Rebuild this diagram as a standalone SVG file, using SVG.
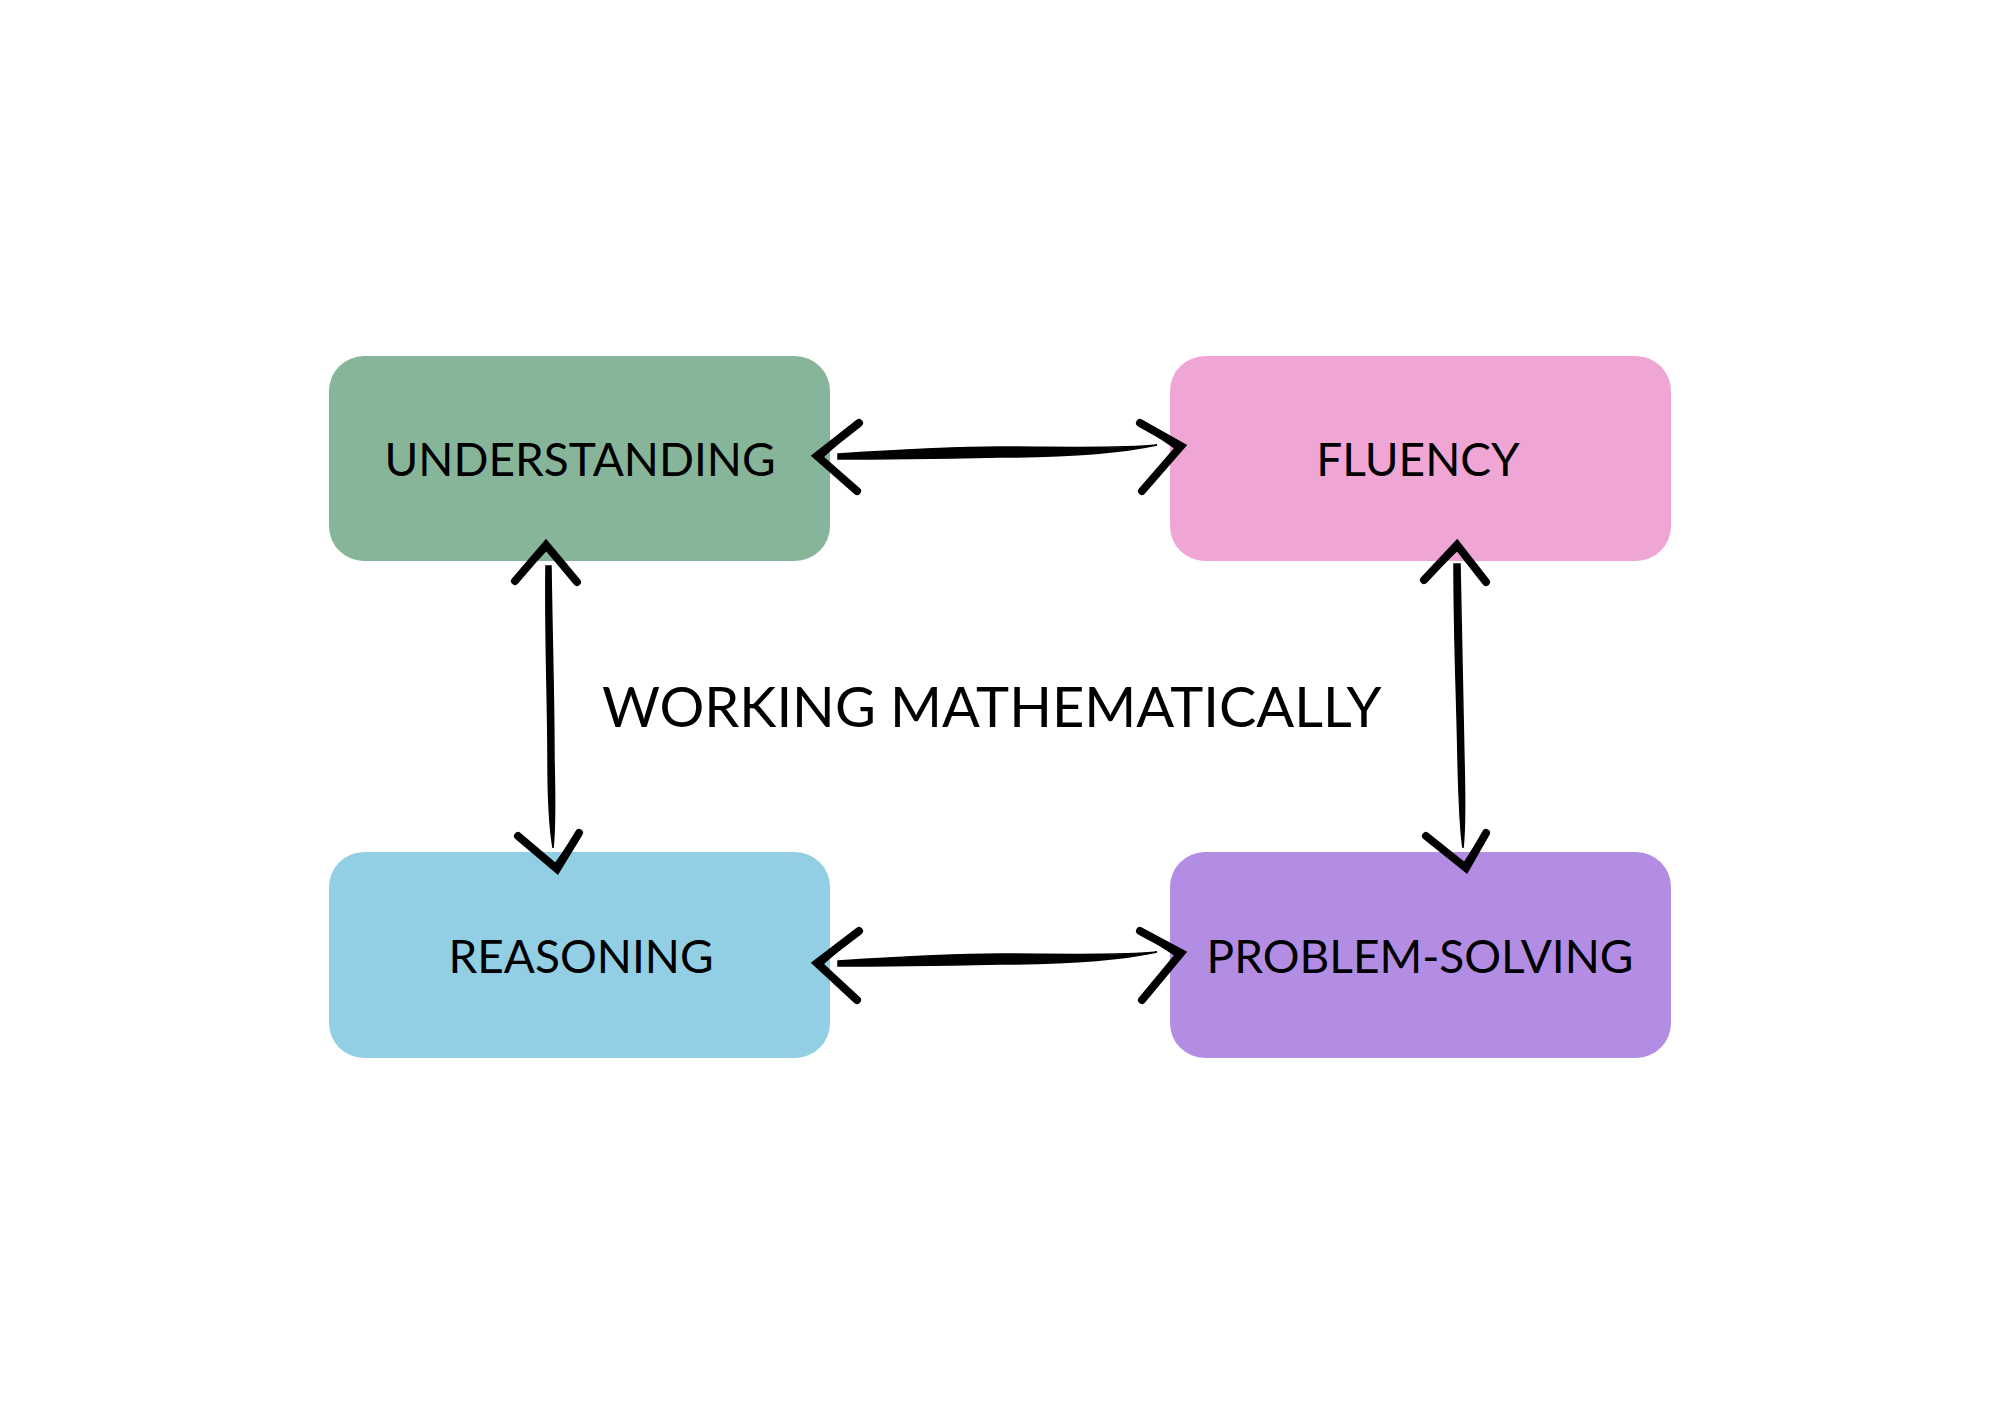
<svg xmlns="http://www.w3.org/2000/svg" width="2000" height="1414" viewBox="0 0 2000 1414">
<style>
.box{stroke:none}
.lbl{font-family:Lato,"Liberation Sans",sans-serif;font-size:46px;fill:#000;text-anchor:middle}
.title{font-family:Lato,"Liberation Sans",sans-serif;font-size:56px;fill:#000}
.head{fill:none;stroke:#000;stroke-width:8;stroke-linecap:round;stroke-linejoin:miter}
.head2{fill:none;stroke:#000;stroke-width:2.5;stroke-linecap:round}
.shaft{fill:#000;stroke:#000;stroke-width:1.5}
</style>
<rect width="2000" height="1414" fill="#ffffff"/>
<g id="understanding">
<rect class="box" x="329" y="356" width="501" height="205" rx="35" fill="#87b59a"/>
<text class="lbl" x="580" y="476">UNDERSTANDING</text>
</g>
<g id="fluency">
<rect class="box" x="1170" y="356" width="501" height="205" rx="35" fill="#f0a6d5"/>
<text class="lbl" x="1418" y="476">FLUENCY</text>
</g>
<g id="reasoning">
<rect class="box" x="329" y="852" width="501" height="206" rx="35" fill="#92cfe4"/>
<text class="lbl" x="581" y="973">REASONING</text>
</g>
<g id="problem-solving">
<rect class="box" x="1170" y="852" width="501" height="206" rx="35" fill="#b38ce4"/>
<text class="lbl" x="1420" y="973">PROBLEM-SOLVING</text>
</g>
<g id="working-mathematically">
<text class="title" x="602" y="727">WORKING MATHEMATICALLY</text>
</g>
<g id="connectors">
<!-- top horizontal -->
<path class="shaft" d="M838,454 C900,450 950,447 1000,447 C1060,447 1120,449 1157,445 C1120,453 1060,457 1000,457 C950,458 900,459 838,459 Z"/>
<path class="head" d="M859,423 L817,456 L857,491"/>
<path class="head2" d="M854,428 L821,458 L851,487"/>
<path class="head" d="M1140,423 L1181,446 L1142,491"/>
<path class="head2" d="M1145,427 L1177,449 L1146,486"/>
<!-- bottom horizontal -->
<path class="shaft" d="M838,961 C900,957 950,954 1000,954 C1060,954 1120,956 1157,952 C1120,960 1060,964 1000,964 C950,965 900,966 838,966 Z"/>
<path class="head" d="M859,931 L817,963 L857,1000"/>
<path class="head2" d="M854,936 L821,965 L851,995"/>
<path class="head" d="M1140,931 L1181,953 L1142,1000"/>
<path class="head2" d="M1145,935 L1177,956 L1146,995"/>
<!-- left vertical -->
<path class="shaft" d="M546,566 C545,640 548,700 548,760 C548,800 550,830 553,848 C555,830 555,800 554,760 C554,700 552,640 551,566 Z"/>
<path class="head" d="M515,581 L546,545 L577,582"/>
<path class="head2" d="M520,577 L547,549 L573,580"/>
<path class="head" d="M518,836 L557,869 L579,833"/>
<path class="head2" d="M523,840 L555,865 L575,836"/>
<!-- right vertical -->
<path class="shaft" d="M1454,564 C1454,640 1457,700 1458,760 C1459,800 1460,830 1463,848 C1465,830 1465,800 1464,760 C1463,700 1461,640 1460,564 Z"/>
<path class="head" d="M1424,580 L1457,545 L1486,582"/>
<path class="head2" d="M1429,576 L1458,549 L1482,580"/>
<path class="head" d="M1426,836 L1466,868 L1486,833"/>
<path class="head2" d="M1431,840 L1464,864 L1482,836"/>
</g>
</svg>
